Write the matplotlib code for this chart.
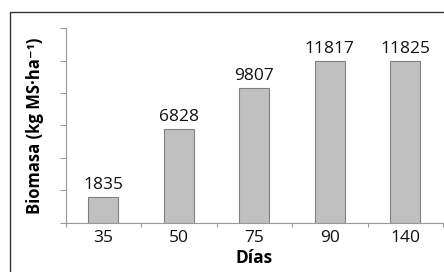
import numpy as np
import matplotlib.pyplot as plt
from matplotlib.patches import Rectangle

# datos
dias = ['35', '50', '75', '90', '140']
biomasa = [1835, 6828, 9807, 11817, 11825]
y_max = 14200

plt.rcParams['font.family'] = ['Open Sans', 'DejaVu Sans']

fig = plt.figure(figsize=(4.44, 2.72), dpi=100)
ax = fig.add_axes([65.5 / 444, 1 - 222.5 / 272, (443 - 65.5) / 444, (222.5 - 28.3) / 272])

x = np.arange(len(dias))
bars = ax.bar(x, biomasa, width=0.4, color='#c0c0c0', edgecolor='#808080', linewidth=0.8)

for xi, v in zip(x, biomasa):
    ax.annotate(str(v), (xi, v), xytext=(0, 3), textcoords='offset points',
                ha='center', va='bottom', fontsize=12.5, color='#111111')

ax.set_xlim(-0.5, len(dias) - 0.5)
ax.set_ylim(0, y_max)
ax.set_xticks(x)
ax.set_xticklabels(dias, fontsize=12.5)
ax.set_xticks(np.arange(len(dias) + 1) - 0.5, minor=True)
ax.tick_params(axis='x', which='major', length=0, pad=5.5, colors='#111111')
ax.tick_params(axis='x', which='minor', length=3, color='#999999', width=0.8)
ax.set_yticks(np.linspace(0, y_max, 7))
ax.set_yticklabels([])
ax.tick_params(axis='y', length=4, color='#999999', width=0.8)

# solo ejes izquierdo e inferior
for s in ('top', 'right'):
    ax.spines[s].set_visible(False)
for s in ('left', 'bottom'):
    ax.spines[s].set_color('#999999')
    ax.spines[s].set_linewidth(0.8)

ax.set_xlabel('Días', fontsize=12.5, fontweight='bold', labelpad=2)
ax.set_ylabel('Biomasa (kg MS·ha⁻¹)', fontsize=12, fontweight='bold', labelpad=8)

# marco exterior
fig.patches.append(Rectangle((10 / 444, -0.05), 1.1, 1 - 12 / 272 + 0.05,
                             transform=fig.transFigure, fill=False,
                             edgecolor='#333333', linewidth=1.0))

fig.savefig('out.png', dpi=100)
